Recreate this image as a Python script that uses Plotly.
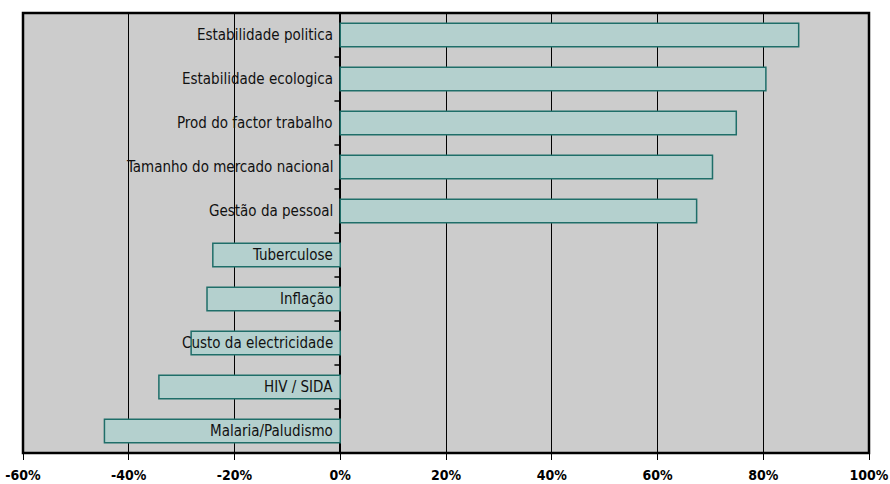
import plotly.graph_objects as go

categories = ["Estabilidade politica", "Estabilidade ecologica", "Prod do factor trabalho",
              "Tamanho do mercado nacional", "Gestão da pessoal", "Tuberculose", "Inflação",
              "Custo da electricidade", "HIV / SIDA", "Malaria/Paludismo"]
values = [86.7, 80.5, 74.9, 70.4, 67.4, -24.1, -25.2, -28.2, -34.3, -44.6]
x_ticks = [-60, -40, -20, 0, 20, 40, 60, 80, 100]
x_tick_labels = ["-60%", "-40%", "-20%", "0%", "20%", "40%", "60%", "80%", "100%"]

FONT = "DejaVu Sans Condensed, Liberation Sans Narrow, sans-serif"
idx = list(range(len(categories)))

fig = go.Figure()
fig.add_trace(go.Bar(
    x=values, y=idx, orientation="h", width=0.53,
    marker=dict(color="#b4d0ce", line=dict(color="#1f6e69", width=1.5)),
    hoverinfo="x+text", hovertext=categories,
))

for i, c in enumerate(categories):
    fig.add_annotation(x=0, y=i, xref="x", yref="y", text=c, showarrow=False,
                       xanchor="right", yanchor="middle", xshift=-5,
                       font=dict(family=FONT, size=15, color="#111111"))

# small tick marks on the zero line between categories
for i in range(len(categories) - 1):
    fig.add_shape(type="line", xref="x", yref="y", x0=-1.1, x1=0, y0=i + 0.5, y1=i + 0.5,
                  line=dict(color="black", width=1.5))

# border
fig.add_shape(type="rect", xref="paper", yref="paper", x0=0, x1=1, y0=0, y1=1,
              line=dict(color="black", width=2.5))

fig.update_layout(
    width=890, height=484,
    margin=dict(l=23, r=21, t=13, b=31),
    paper_bgcolor="white", plot_bgcolor="#cccccc",
    showlegend=False, bargap=0.47,
    xaxis=dict(range=[-60, 100], tickvals=x_ticks, ticktext=x_tick_labels,
               showgrid=True, gridcolor="black", gridwidth=1.3,
               zeroline=True, zerolinecolor="black", zerolinewidth=1.5,
               ticks="outside", ticklen=6, tickcolor="black", tickwidth=1.3,
               ticklabelstandoff=3,
               tickfont=dict(family=FONT, size=14, color="black", weight="bold"),
               showline=False, fixedrange=True, automargin=False),
    yaxis=dict(range=[len(categories) - 0.5, -0.5], showticklabels=False, showgrid=False,
               zeroline=False, showline=False, ticks="", fixedrange=True, automargin=False),
)

fig.write_html("out.html")
